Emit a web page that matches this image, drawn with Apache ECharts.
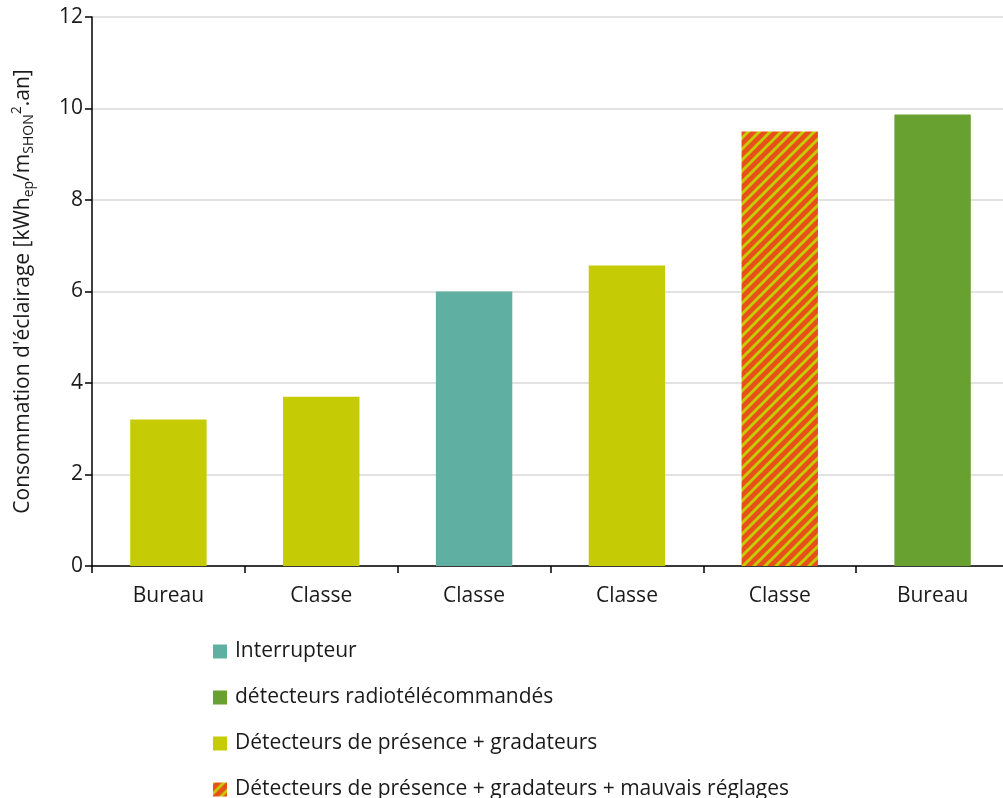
<!DOCTYPE html>
<html>
<head>
<meta charset="utf-8">
<script src="https://cdn.jsdelivr.net/npm/echarts@6/dist/echarts.min.js"></script>
<style>
  html, body { margin: 0; padding: 0; background: #fff; }
  #chart { width: 1003px; height: 798px; }
</style>
</head>
<body>
<div id="chart"></div>
<script>
// categories (bâtiments)
const categories = ["Bureau", "Classe", "Classe", "Classe", "Classe", "Bureau"];
// consommation par type de commande
const interrupteur = ["-", "-", 6.0, "-", "-", "-"];
const radioCommandes = ["-", "-", "-", "-", "-", 9.87];
const gradateurs = [3.2, 3.7, "-", 6.57, "-", "-"];
const mauvaisReglages = ["-", "-", "-", "-", 9.5, "-"];
const yTicks = { min: 0, max: 12, interval: 2 };

const FONT = "Open Sans";
const FS = 21;

// motif hachuré orange / jaune
function hatch() {
  const c = document.createElement("canvas");
  c.width = 11;
  c.height = 11;
  const ctx = c.getContext("2d");
  ctx.fillStyle = "#E8501A";
  ctx.fillRect(0, 0, 11, 11);
  ctx.strokeStyle = "#C5CC06";
  ctx.lineWidth = 3;
  [[-5.5, 5.5, 5.5, -5.5], [0, 11, 11, 0], [5.5, 16.5, 16.5, 5.5]].forEach((l) => {
    ctx.beginPath();
    ctx.moveTo(l[0], l[1]);
    ctx.lineTo(l[2], l[3]);
    ctx.stroke();
  });
  return c;
}

const chart = echarts.init(document.getElementById("chart"));

const barBase = {
  type: "bar",
  stack: "total",
  barWidth: "50%",
};

chart.setOption({
  animation: false,
  textStyle: { fontFamily: FONT },
  grid: { left: 92, right: -6, top: 17, bottom: 232, outerBoundsMode: "none" },
  legend: {
    orient: "vertical",
    left: 213,
    top: 641,
    height: 220,
    padding: 0,
    icon: "rect",
    itemWidth: 14,
    itemHeight: 14,
    itemGap: 25,
    textStyle: { fontFamily: FONT, fontSize: FS, lineHeight: 20, color: "#1a1a1a", padding: [0, 0, 0, 3] },
    data: [
      "Interrupteur",
      "détecteurs radiotélécommandés",
      "Détecteurs de présence + gradateurs",
      "Détecteurs de présence + gradateurs + mauvais réglages",
    ],
  },
  xAxis: {
    type: "category",
    data: categories,
    axisLine: { lineStyle: { color: "#000", width: 1.5 } },
    axisTick: { show: true, length: 7, lineStyle: { color: "#000", width: 1.5 } },
    axisLabel: { fontSize: FS, color: "#1a1a1a", margin: 20 },
  },
  yAxis: {
    type: "value",
    min: yTicks.min,
    max: yTicks.max,
    interval: yTicks.interval,
    name: "{n|Consommation d'éclairage [kWh}{sub|ep}{n|/m}{sub|SHON}{sup|2}{n|.an]}",
    nameLocation: "middle",
    nameGap: 56,
    nameTextStyle: {
      rich: {
        n: { fontFamily: FONT, fontSize: FS, color: "#1a1a1a", lineHeight: 26, verticalAlign: "middle" },
        sub: { fontFamily: FONT, fontSize: 14, color: "#1a1a1a", lineHeight: 26, verticalAlign: "bottom" },
        sup: { fontFamily: FONT, fontSize: 14, color: "#1a1a1a", lineHeight: 26, verticalAlign: "top" },
      },
    },
    axisLine: { show: true, lineStyle: { color: "#000", width: 1.5 } },
    axisTick: { show: true, length: 7, lineStyle: { color: "#000", width: 1.5 } },
    axisLabel: { fontSize: FS, color: "#1a1a1a", margin: 9 },
    splitLine: { lineStyle: { color: "#D9D9D9", width: 1.5 } },
  },
  series: [
    Object.assign({}, barBase, {
      name: "Interrupteur",
      data: interrupteur,
      itemStyle: { color: "#5FB0A2" },
    }),
    Object.assign({}, barBase, {
      name: "détecteurs radiotélécommandés",
      data: radioCommandes,
      itemStyle: { color: "#69A131" },
    }),
    Object.assign({}, barBase, {
      name: "Détecteurs de présence + gradateurs",
      data: gradateurs,
      itemStyle: { color: "#C5CC06" },
    }),
    Object.assign({}, barBase, {
      name: "Détecteurs de présence + gradateurs + mauvais réglages",
      data: mauvaisReglages,
      itemStyle: { color: { image: hatch(), repeat: "repeat" } },
    }),
  ],
});
</script>
</body>
</html>
